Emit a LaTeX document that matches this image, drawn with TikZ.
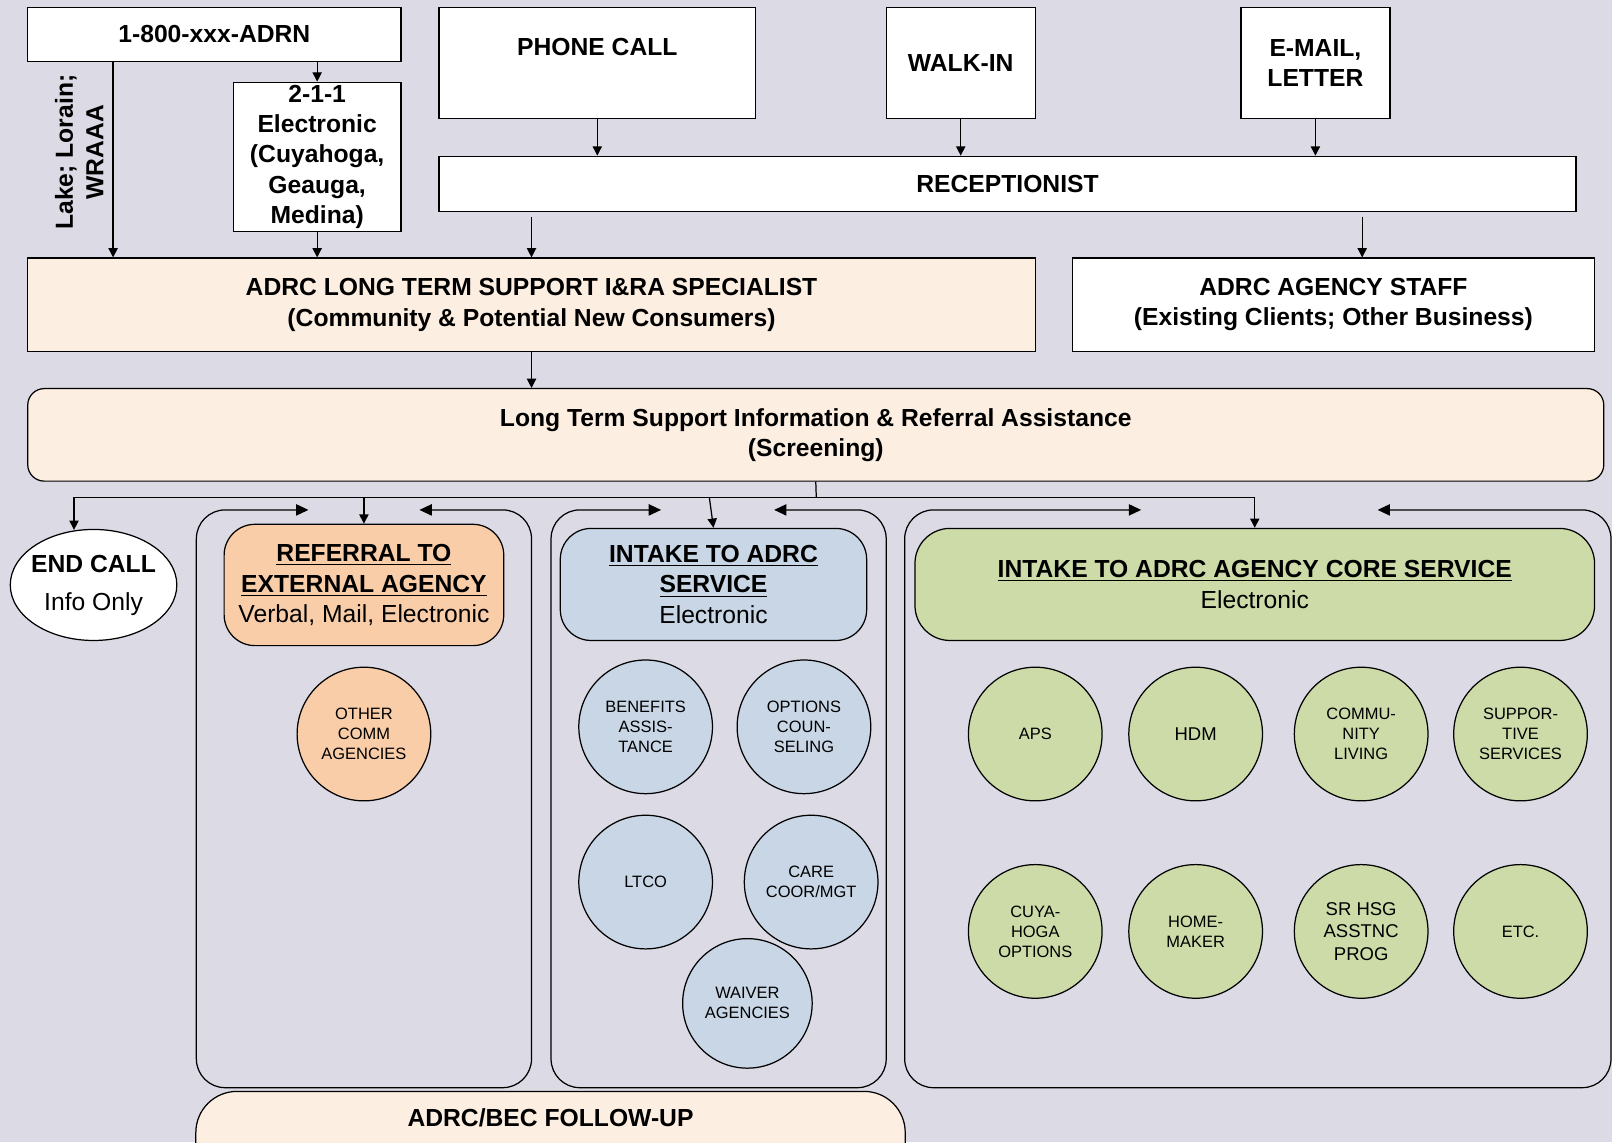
\documentclass[tikz,border=0pt]{standalone}
\usepackage{fontspec}
\setmainfont{Liberation Sans}
\usetikzlibrary{arrows.meta,shapes.geometric}
\definecolor{bgcol}{RGB}{220,218,228}
\definecolor{peach}{RGB}{253,238,226}
\definecolor{orangefill}{RGB}{249,205,168}
\definecolor{bluefill}{RGB}{200,214,230}
\definecolor{greenfill}{RGB}{204,219,168}
\tikzset{
  big/.style={font=\bfseries\fontsize{12}{14.75}\selectfont},
  plainbig/.style={font=\fontsize{12}{14.75}\selectfont},
  small/.style={font=\fontsize{8}{9.75}\selectfont},
  rectbox/.style={draw, line width=0.6pt, rectangle, inner sep=0pt, align=center, big},
  roundbox/.style={rectbox, rounded corners=15pt},
  circ/.style={draw, line width=0.6pt, circle, minimum size=65pt, inner sep=0pt, align=center, small},
  arr/.style={line width=0.6pt, -{Triangle[length=4.5pt,width=4.5pt]}},
  loop/.style={line width=0.6pt, rounded corners=14pt, {Triangle[length=6pt,width=5.5pt]}-{Triangle[length=6pt,width=5.5pt]}},
  plainline/.style={line width=0.6pt}
}
\begin{document}
\begin{tikzpicture}[x=0.5pt,y=-0.5pt]
\fill[bgcol] (0,0) rectangle (1568,1111);
\useasboundingbox (0,0) rectangle (1568,1111);
\clip (0,0) rectangle (1568,1111);

% entry points
\node[rectbox, fill=white, minimum width=181.5pt, minimum height=26.5pt] (n1800) at (208.5,33.5) {1-800-xxx-ADRN};
\node[rectbox, fill=white, minimum width=81.5pt, minimum height=72.5pt] (n211) at (308.5,152.5)
  {2-1-1\\Electronic\\(Cuyahoga,\\Geauga,\\Medina)};
\node[big, rotate=90, align=center] (lake) at (77,148) {Lake; Lorain;\\WRAAA};
\node[rectbox, fill=white, minimum width=154pt, minimum height=54pt] (phone) at (581,61) {};
\node[big] (phonetxt) at (581,46) {PHONE CALL};
\node[rectbox, fill=white, minimum width=72.5pt, minimum height=54pt] (walk) at (934.5,61) {WALK-IN};
\node[rectbox, fill=white, minimum width=72.5pt, minimum height=54pt] (mail) at (1279.5,61) {E-MAIL,\\LETTER};
\node[rectbox, fill=white, minimum width=553pt, minimum height=27pt] (recep) at (980,179) {RECEPTIONIST};

% specialists
\node[rectbox, fill=peach, minimum width=490pt, minimum height=45.5pt] (lts) at (517,296.5)
  {ADRC LONG TERM SUPPORT I\&RA SPECIALIST\\(Community \& Potential New Consumers)};
\node[rectbox, fill=white, minimum width=254pt, minimum height=45.5pt] (staff) at (1297,296.5)
  {ADRC AGENCY STAFF\\(Existing Clients; Other Business)};
\node[roundbox, rounded corners=8pt, fill=peach, minimum width=766.5pt, minimum height=45pt] (screen) at (793.5,423)
  {Long Term Support Information \& Referral Assistance\\(Screening)};

% outcomes
\node[draw, line width=0.6pt, ellipse, fill=white, minimum width=81pt, minimum height=54pt,
      inner xsep=-6pt, inner ysep=-6pt, align=center] (endcall) at (91,569)
  {{\bfseries\fontsize{12}{14.5}\selectfont END CALL}\\[6.5pt]{\fontsize{12}{14.5}\selectfont Info Only}};
\node[roundbox, fill=orangefill, minimum width=136pt, minimum height=59pt] (referral) at (354,569)
  {\underline{REFERRAL TO}\\\underline{EXTERNAL AGENCY}\\{\mdseries Verbal, Mail, Electronic}};
\node[roundbox, fill=bluefill, minimum width=149pt, minimum height=54.5pt] (intake) at (694,568.5)
  {\underline{INTAKE TO ADRC}\\\underline{SERVICE}\\{\mdseries Electronic}};
\node[roundbox, rounded corners=17pt, fill=greenfill, minimum width=330.5pt, minimum height=54.5pt] (core) at (1220.5,568.5)
  {\underline{INTAKE TO ADRC AGENCY CORE SERVICE}\\{\mdseries Electronic}};

% service circles
\node[circ, fill=orangefill] (other) at (354,714) {OTHER\\COMM\\AGENCIES};
\node[circ, fill=bluefill] (benefits) at (628,707) {BENEFITS\\ASSIS-\\TANCE};
\node[circ, fill=bluefill] (options) at (782,707) {OPTIONS\\COUN-\\SELING};
\node[circ, fill=bluefill] (ltco) at (628,858) {LTCO};
\node[circ, fill=bluefill] (care) at (789,858) {CARE\\COOR/MGT};
\node[circ, fill=bluefill, minimum size=63pt] (waiver) at (727,976) {WAIVER\\AGENCIES};
\node[circ, fill=greenfill] (aps) at (1007,714) {APS};
\node[circ, fill=greenfill, font=\fontsize{9}{11}\selectfont] (hdm) at (1163,714) {HDM};
\node[circ, fill=greenfill] (commu) at (1324,714) {COMMU-\\NITY\\LIVING};
\node[circ, fill=greenfill] (suppor) at (1479,714) {SUPPOR-\\TIVE\\SERVICES};
\node[circ, fill=greenfill] (cuya) at (1007,906) {CUYA-\\HOGA\\OPTIONS};
\node[circ, fill=greenfill] (home) at (1163,906) {HOME-\\MAKER};
\node[circ, fill=greenfill, font=\fontsize{9}{11}\selectfont] (srhsg) at (1324,906) {SR HSG\\ASSTNC\\PROG};
\node[circ, fill=greenfill] (etc) at (1479,906) {ETC.};

% follow-up bar (runs past the lower edge)
\node[roundbox, rounded corners=20pt, fill=peach, minimum width=345pt, minimum height=45pt, anchor=north] (followup) at (535.5,1061) {};
\node[big] (followuptxt) at (535.5,1087) {ADRC/BEC FOLLOW-UP};

% containers with return arrows
\draw[loop] (408,496) -| (517,1058) -| (191,496) -- (300,496);
\draw[loop] (753,496) -| (862,1058) -| (536,496) -- (643,496);
\draw[loop] (1340,496) -| (1567,1058) -| (880,496) -- (1110,496);

% connectors
\coordinate (lakex) at (110,0);
\coordinate (staffx) at (1325,0);
\coordinate (bus) at (794,484);
\draw[arr] (n1800.south -| n211) -- (n211.north);
\draw[arr] (lakex |- n1800.south) -- (lakex |- lts.north);
\draw[arr] (n211.south) -- (n211.south |- lts.north);
\draw[arr] (phone.south) -- (phone.south |- recep.north);
\draw[arr] (walk.south) -- (walk.south |- recep.north);
\draw[arr] (mail.south) -- (mail.south |- recep.north);
\draw[arr] ([yshift=-2pt]lts.north |- recep.south) -- (lts.north);
\draw[arr] ([yshift=-2pt]staffx |- recep.south) -- (staffx |- staff.north);
\draw[arr] (lts.south) -- (lts.south |- screen.north);
\draw[plainline] (screen.south) -- (bus);
\draw[arr] (bus) -| ([xshift=-9.5pt,yshift=-0.5pt]endcall.north);
\draw[arr] (bus) -| (core.north);
\draw[arr] (referral.north |- bus) -- (referral.north);
\draw[arr] ([xshift=-2pt]intake.north |- bus) -- (intake.north);
\end{tikzpicture}
\end{document}
